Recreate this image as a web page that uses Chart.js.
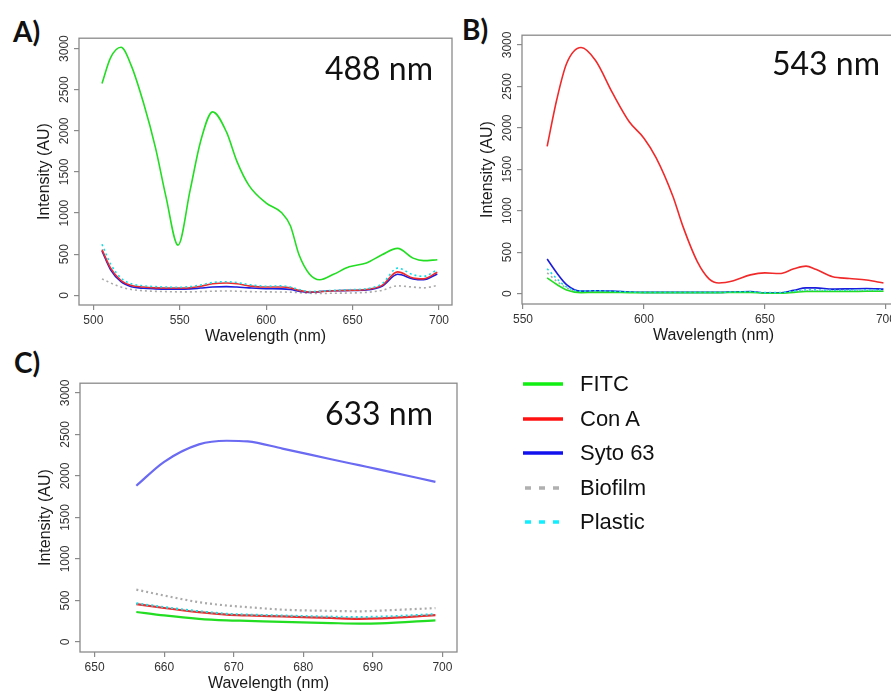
<!DOCTYPE html>
<html>
<head>
<meta charset="utf-8">
<title>Emission spectra</title>
<script src="https://cdn.jsdelivr.net/npm/chart.js@4.4.1/dist/chart.umd.min.js"></script>
<style>
  html, body { margin: 0; padding: 0; background: #fff; }
  body { position: relative; width: 891px; height: 693px; overflow: hidden; font-family: "Liberation Sans", Arial, sans-serif; }
  .box { position: absolute; }
  .tag { position: absolute; font: bold 28px Lato, sans-serif; line-height: 28px; color: #111; }
  .laser { position: absolute; font: 32px Lato, sans-serif; line-height: 32px; color: #111; white-space: nowrap; }
  .key { position: absolute; left: 523px; width: 200px; height: 24px; line-height: 24px; font-size: 22px; color: #111; }
  .key svg { position: absolute; left: 0; top: 10px; }
  .key span { position: absolute; left: 57px; white-space: nowrap; }
</style>
</head>
<body>
<div class="tag" style="left:13px;top:17px">A)</div>
<div class="tag" style="left:462px;top:15px">B)</div>
<div class="tag" style="left:14px;top:348px">C)</div>

<div class="box" id="p488"><canvas></canvas></div>
<div class="box" id="p543"><canvas></canvas></div>
<div class="box" id="p633"><canvas></canvas></div>

<div class="laser" style="left:325px;top:52px">488 nm</div>
<div class="laser" style="left:772px;top:47px">543 nm</div>
<div class="laser" style="left:325px;top:397px">633 nm</div>

<div id="legend"></div>

<script>
// 488 nm excitation
const wl488 = [505, 510, 516, 522, 529, 536, 542, 549, 556, 562, 569, 577, 583, 590, 600, 609, 614, 619, 625, 631, 639, 648, 658, 667, 676, 685, 691, 699];
const fitc488 = [2575, 2890, 3016, 2790, 2340, 1790, 1200, 610, 1278, 1868, 2230, 1986, 1632, 1337, 1121, 1003, 846, 492, 259, 189, 256, 346, 393, 492, 570, 452, 421, 433];
const conA488 = [555, 330, 180, 120, 100, 90, 88, 88, 92, 110, 140, 150, 140, 115, 100, 100, 90, 60, 40, 45, 55, 60, 70, 120, 285, 210, 200, 280];
const syto488 = [540, 310, 165, 105, 85, 78, 75, 75, 78, 88, 100, 105, 100, 90, 80, 78, 70, 50, 35, 45, 55, 58, 65, 110, 255, 200, 190, 260];
const biofilm488 = [200, 150, 100, 70, 55, 48, 45, 42, 42, 45, 50, 52, 50, 45, 42, 40, 38, 32, 25, 22, 25, 28, 35, 60, 115, 100, 90, 120];
const plastic488 = [620, 380, 210, 140, 115, 105, 100, 98, 105, 125, 155, 165, 155, 130, 110, 115, 100, 70, 45, 50, 60, 68, 80, 140, 330, 250, 230, 310];

// 543 nm excitation
const wl543 = [560, 564, 568, 574, 580, 587, 594, 600, 605, 612, 616, 622, 627, 631, 637, 644, 650, 656, 662, 667, 671, 678, 685, 692, 699];
const fitc543 = [190, 110, 45, 12, 15, 15, 12, 12, 12, 12, 12, 12, 12, 12, 15, 15, 5, 5, 15, 25, 25, 25, 25, 28, 28];
const conA543 = [1777, 2344, 2773, 2968, 2812, 2421, 2070, 1875, 1641, 1172, 820, 390, 176, 129, 156, 226, 250, 242, 300, 332, 293, 203, 183, 164, 129];
const syto543 = [418, 250, 110, 30, 35, 30, 20, 15, 15, 15, 15, 15, 15, 15, 20, 25, 10, 10, 40, 70, 70, 55, 58, 62, 55];
const biofilm543 = [250, 150, 70, 25, 28, 22, 18, 15, 15, 15, 15, 15, 15, 15, 18, 20, 10, 10, 25, 35, 35, 30, 32, 33, 32];
const plastic543 = [300, 180, 80, 30, 35, 28, 20, 15, 15, 15, 15, 15, 15, 15, 20, 22, 12, 12, 30, 45, 45, 40, 42, 45, 45];

// 633 nm excitation
const wl633 = [656, 660, 665, 669, 672, 677, 684, 688, 691, 699];
const fitc633 = [362, 320, 280, 262, 255, 242, 228, 222, 225, 262];
const conA633 = [456, 410, 360, 330, 320, 308, 290, 280, 285, 324];
const syto633 = [1882, 2170, 2380, 2424, 2416, 2330, 2201, 2130, 2077, 1929];
const biofilm633 = [631, 560, 480, 440, 420, 390, 375, 370, 378, 409];
const plastic633 = [465, 420, 370, 340, 330, 318, 305, 300, 305, 335];

const seriesNames = ['FITC', 'Con A', 'Syto 63', 'Biofilm', 'Plastic'];
const seriesColors = ['#22dd22', '#f02a2a', '#1c1cdc', '#aaaaaa', '#11dde8'];
const legendColors = ['#11ee11', '#ff1111', '#1111ee', '#b0b0b0', '#11eeff'];
const syto633Color = '#6a6af2';
const dotted = [false, false, false, true, true];
const drawOrder = [2, 1, 3, 4, 0];

const yTickValues = [0, 500, 1000, 1500, 2000, 2500, 3000];
const xTicks488 = [500, 550, 600, 650, 700];
const xTicks543 = [550, 600, 650, 700];
const xTicks633 = [650, 660, 670, 680, 690, 700];

const FONT = '"Liberation Sans", Arial, sans-serif';
const AXIS_W = 60, AXIS_H = 48, PAD = 2;

// plot box plus rotated y tick labels (R style)
const framePlugin = {
  id: 'frameAndYLabels',
  afterDraw(chart) {
    const { ctx, chartArea: a } = chart;
    const y = chart.scales.y;
    ctx.save();
    ctx.strokeStyle = '#8a8a8a';
    ctx.lineWidth = 1.3;
    ctx.strokeRect(a.left, a.top, a.right - a.left, a.bottom - a.top);
    ctx.fillStyle = '#333';
    ctx.font = '12px ' + FONT;
    ctx.textAlign = 'center';
    ctx.textBaseline = 'middle';
    y.ticks.forEach(t => {
      ctx.save();
      ctx.translate(a.left - 14, y.getPixelForValue(t.value));
      ctx.rotate(-Math.PI / 2);
      ctx.fillText(String(t.value), 0, 0);
      ctx.restore();
    });
    ctx.restore();
  }
};

function buildPanel(cfg) {
  const wrap = document.getElementById(cfg.id);
  const left = cfg.frame.l - AXIS_W;
  const top = cfg.frame.t - PAD;
  const width = cfg.frame.r - left + PAD;
  const height = cfg.frame.b - top + AXIS_H;
  wrap.style.left = left + 'px';
  wrap.style.top = top + 'px';
  wrap.style.width = width + 'px';
  wrap.style.height = height + 'px';
  const canvas = wrap.querySelector('canvas');
  canvas.width = width;
  canvas.height = height;

  const gridOpts = { drawOnChartArea: false, drawTicks: true, tickLength: 5, color: '#8a8a8a', lineWidth: 1.2 };

  new Chart(canvas, {
    type: 'line',
    data: {
      datasets: cfg.values.map((vals, i) => ({
        label: seriesNames[i],
        data: vals.map((v, k) => ({ x: cfg.wl[k], y: v })),
        borderColor: cfg.colors[i],
        borderWidth: cfg.lineWidth,
        borderDash: dotted[i] ? [2, 3] : [],
        pointRadius: 0,
        cubicInterpolationMode: 'monotone',
        fill: false,
        order: drawOrder[i]
      }))
    },
    options: {
      responsive: false,
      animation: false,
      layout: { padding: { top: PAD, right: PAD, left: 0, bottom: 0 } },
      plugins: { legend: { display: false }, tooltip: { enabled: false } },
      scales: {
        x: {
          type: 'linear',
          min: cfg.xRange[0],
          max: cfg.xRange[1],
          afterBuildTicks: s => { s.ticks = cfg.xTicks.map(v => ({ value: v })); },
          afterFit: s => { s.height = AXIS_H; },
          grid: gridOpts,
          border: { display: false },
          ticks: { color: '#333', font: { size: 12, family: FONT }, padding: 3, maxRotation: 0, autoSkip: false, callback: v => String(v) },
          title: { display: true, text: 'Wavelength (nm)', color: '#1a1a1a', font: { size: 16, family: FONT }, padding: { top: 0, bottom: 6.5 } }
        },
        y: {
          type: 'linear',
          min: cfg.yRange[0],
          max: cfg.yRange[1],
          afterBuildTicks: s => { s.ticks = yTickValues.map(v => ({ value: v })); },
          afterFit: s => { s.width = AXIS_W; },
          grid: gridOpts,
          border: { display: false },
          ticks: { color: 'rgba(0,0,0,0)', font: { size: 12, family: FONT }, callback: v => String(v) },
          title: { display: true, text: 'Intensity (AU)', color: '#1a1a1a', font: { size: 16, family: FONT }, padding: { top: 16.4, bottom: 0 } }
        }
      }
    },
    plugins: [framePlugin]
  });
}

buildPanel({
  id: 'p488',
  frame: { l: 79, t: 30, r: 452, b: 305 },
  xRange: [491.7, 707.5], yRange: [-118, 3126],
  xTicks: xTicks488, wl: wl488,
  values: [fitc488, conA488, syto488, biofilm488, plastic488],
  colors: seriesColors, lineWidth: 1.6
});

buildPanel({
  id: 'p543',
  frame: { l: 522, t: 27, r: 905, b: 304 },
  xRange: [549.6, 707.9], yRange: [-125, 3117],
  xTicks: xTicks543, wl: wl543,
  values: [fitc543, conA543, syto543, biofilm543, plastic543],
  colors: seriesColors, lineWidth: 1.6
});

buildPanel({
  id: 'p633',
  frame: { l: 80, t: 375, r: 457, b: 652 },
  xRange: [647.9, 702.1], yRange: [-120, 3117],
  xTicks: xTicks633, wl: wl633,
  values: [fitc633, conA633, syto633, biofilm633, plastic633],
  colors: [seriesColors[0], seriesColors[1], syto633Color, seriesColors[3], seriesColors[4]],
  lineWidth: 2.2
});

// legend rows, built from the series names and colours
const legendRowY = [384, 419, 453, 488, 522];
const legend = document.getElementById('legend');
seriesNames.forEach((name, i) => {
  const row = document.createElement('div');
  row.className = 'key';
  row.style.top = (legendRowY[i] - 12) + 'px';
  const dash = dotted[i] ? ' stroke-dasharray="6 8" stroke-dashoffset="-2"' : '';
  row.innerHTML = '<svg width="42" height="4"><line x1="0" y1="2" x2="40" y2="2" stroke="' + legendColors[i] +
    '" stroke-width="3.5"' + dash + '/></svg><span>' + name + '</span>';
  legend.appendChild(row);
});
</script>
</body>
</html>
